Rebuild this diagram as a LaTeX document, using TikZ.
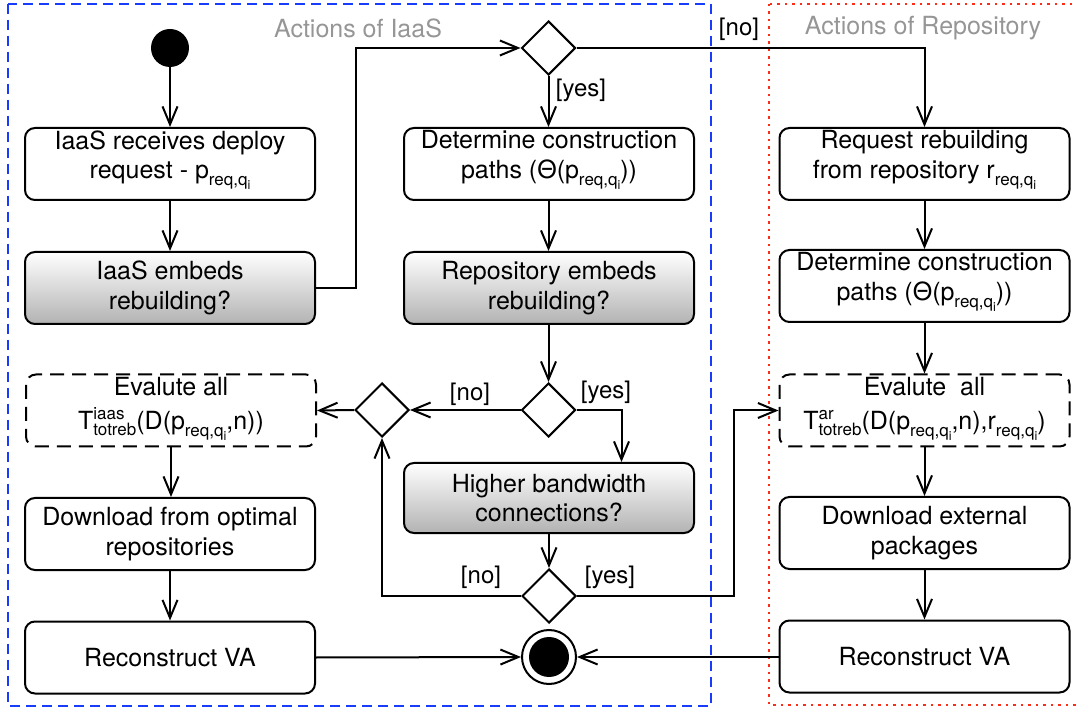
\documentclass[tikz,border=0pt]{standalone}
\usepackage{fontspec}
\setmainfont{TeX Gyre Heros}
\usetikzlibrary{arrows.meta,shapes.geometric}
\newcommand\sbs[1]{{\fontsize{17}{17}\selectfont #1}}
\newcommand\ssbs[1]{{\fontsize{12.5}{12.5}\selectfont #1}}
\newcommand\reqq{\raisebox{-7pt}{\sbs{req,q\raisebox{-4pt}{\ssbs{i}}}}}
\newcommand\Tt[1]{T\rlap{\raisebox{10pt}{\sbs{#1}}}\raisebox{-6pt}{\sbs{totreb}}}
\newcommand\dstrut{\rule[-19pt]{0pt}{19pt}}
\definecolor{frameblue}{RGB}{25,60,250}
\definecolor{framered}{RGB}{250,45,25}
\definecolor{titlegray}{RGB}{150,150,150}
\begin{document}
\begin{tikzpicture}[x=1pt,y=-1pt,
  act/.style={draw, rounded corners=10pt, line width=2pt, minimum width=290pt,
    minimum height=72pt, align=center, inner sep=0pt, font=\fontsize{25}{29.5}\selectfont},
  dec/.style={act, top color=white, bottom color=black!30},
  evalbox/.style={act, dash pattern=on 14pt off 8pt, font=\fontsize{25}{34}\selectfont},
  choice/.style={diamond, draw, line width=2pt, minimum width=54pt, minimum height=54pt, inner sep=0pt},
  flow/.style={line width=2pt, -{Straight Barb[length=18pt,width=15pt]}},
  lbl/.style={font=\fontsize{24}{24}\selectfont, inner sep=0pt},
  title/.style={font=\fontsize{25}{25}\selectfont, text=titlegray, inner sep=0pt}]
\useasboundingbox (0,0) rectangle (1077,708);
% swimlane frames
\draw[frameblue, line width=2pt, dash pattern=on 10pt off 6pt] (8,4) rectangle (710.5,706);
\draw[framered, line width=2pt, dash pattern=on 2.5pt off 5pt] (769,4) rectangle (1082,705);
\node[title] (tI) at (358,28) {Actions of IaaS};
\node[title] (tR) at (923,28) {Actions of Repository};
% start
\node[circle, fill=black, minimum size=38pt, inner sep=0pt] (start) at (170,48) {};
% left column
\node[act] (L1) at (170,164) {IaaS receives deploy\\request - p\reqq\dstrut};
\node[dec] (L2) at (170,288) {IaaS embeds\\rebuilding?};
\node[evalbox] (L3) at (171,410.5) {Evalute all\\\Tt{iaas}(D(p\reqq,n))\rule[-14pt]{0pt}{14pt}};
\node[act] (L4) at (170,534) {Download from optimal\\repositories};
\node[act] (L5) at (170,657.5) {Reconstruct VA};
% middle column
\node[choice] (D1) at (548.5,48) {};
\node[act] (M1) at (549,164) {Determine construction\\paths (Θ(p\reqq))\dstrut};
\node[dec] (M2) at (549,288) {Repository embeds\\rebuilding?};
\node[choice] (D2) at (548.5,410) {};
\node[choice] (D4) at (382,410) {};
\node[dec, minimum height=70pt] (M3) at (549,498) {Higher bandwidth\\connections?};
\node[choice] (D3) at (549,596) {};
\node[circle, draw, line width=2pt, minimum size=54pt, inner sep=0pt] (end) at (549,657) {};
\fill (end.center) circle (20pt);
% right column
\node[act] (R1) at (924.5,164) {Request rebuilding\\from repository r\reqq\dstrut};
\node[act] (R2) at (924.5,286) {Determine construction\\paths (Θ(p\reqq))\dstrut};
\node[evalbox] (R3) at (924.5,410.5) {Evalute\ \ all\\\Tt{ar}(D(p\reqq,n),r\reqq)\rule[-14pt]{0pt}{14pt}};
\node[act] (R4) at (924.5,533) {Download external\\packages};
\node[act] (R5) at (924.5,656.5) {Reconstruct VA};
% helper coordinates
\coordinate (c1) at (356,288);
\coordinate (c2) at (621.5,410);
\coordinate (c3) at (733.5,596);
% connectors
\draw[flow] (start) -- (L1);
\draw[flow] (L1) -- (L2);
\draw[flow] (L2.east) -- (c1) |- (D1.west);
\draw[flow] (D1.south) -- (M1.north -| D1.south);
\draw[flow] (D1.east) -| (R1.north);
\draw[flow] (M1.south -| D1.south) -- (M2.north -| D1.south);
\draw[flow] (M2.south -| D2.north) -- (D2.north);
\draw[flow] (D2.west) -- (D4.east);
\draw[flow] (D4.west) -- (L3.east);
\draw[flow] (D2.east) -- (c2) -- (M3.north -| c2);
\draw[flow] (M3.south -| D3.north) -- (D3.north);
\draw[flow] (D3.west) -| (D4.south);
\draw[flow] (D3.east) -- (c3) |- (R3.west);
\draw[flow] (L3.south) -- (L4.north -| L3.south);
\draw[flow] (L4) -- (L5);
\draw[flow] (L5.east) -- (end.west);
\draw[flow] (R5.west |- end.center) -- (end.east);
\draw[flow] (R1) -- (R2);
\draw[flow] (R2) -- (R3);
\draw[flow] (R3) -- (R4);
\draw[flow] (R4) -- (R5);
% guard labels
\node[lbl] (n1) at (739,29) {[no]};
\node[lbl] (y1) at (581,90) {[yes]};
\node[lbl] (n2) at (470,394) {[no]};
\node[lbl] (y2) at (606,392) {[yes]};
\node[lbl] (n3) at (481,577) {[no]};
\node[lbl] (y3) at (610,577) {[yes]};
\end{tikzpicture}
\end{document}
